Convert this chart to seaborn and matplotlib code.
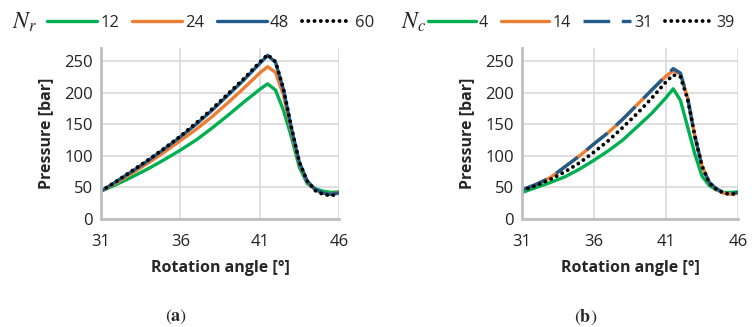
import matplotlib
matplotlib.use("Agg")
import matplotlib.pyplot as plt
import seaborn as sns
import numpy as np

# ---- data ----
angles = [31, 32, 33, 34, 35, 36, 37, 38, 39, 40, 41, 41.5, 42, 42.5, 43, 43.5, 44, 44.5, 45, 45.5, 46]

# panel (a): N_r
nr_labels = ["12", "24", "48", "60"]
nr_12 = [44, 55, 67, 80, 94, 109, 125, 144, 164, 185, 205, 214, 204, 172, 130, 82, 56, 48, 44, 42, 43]
nr_24 = [44, 58, 73, 89, 106, 124, 142, 162, 184, 207, 231, 241, 232, 196, 140, 88, 59, 46, 41, 39, 42]
nr_48 = [44, 60, 76, 93, 111, 130, 150, 172, 196, 220, 246, 259, 248, 205, 144, 90, 60, 47, 41, 39, 41]
nr_60 = [44, 60, 77, 94, 112, 131, 152, 174, 198, 222, 248, 260, 249, 206, 145, 90, 60, 45, 39, 37, 40]

# panel (b): N_c
nc_labels = ["4", "14", "31", "39"]
nc_4 = [42, 50, 58, 67, 79, 93, 108, 125, 146, 167, 192, 206, 188, 146, 103, 68, 53, 46, 42, 42, 43]
nc_14 = [46, 55, 66, 83, 100, 119, 137, 158, 181, 204, 226, 235, 229, 192, 132, 84, 58, 47, 41, 39, 41]
nc_31 = [46, 55, 66, 83, 100, 119, 137, 158, 181, 204, 227, 238, 231, 192, 131, 84, 58, 48, 42, 40, 42]
nc_39 = [45, 53, 63, 75, 89, 106, 124, 145, 167, 191, 217, 228, 225, 190, 132, 84, 57, 47, 41, 39, 41]

x_ticks = [31, 36, 41, 46]
y_ticks = [0, 50, 100, 150, 200, 250]

# ---- style ----
sns.set_theme(style="white")
plt.rcParams["font.family"] = ["Open Sans", "DejaVu Sans"]
plt.rcParams["mathtext.fontset"] = "stix"

GREEN = "#00b050"
ORANGE = "#ed7d31"
BLUE = "#1f5c8c"
BLACK = "#000000"
GRID = "#d9d9d9"
SPINE = "#bfbfbf"

fig = plt.figure(figsize=(7.52, 3.27), dpi=100)
axA = fig.add_axes([101/752, 1-219/327, (339-101)/752, (219-48.4)/327])
axB = fig.add_axes([522/752, 1-219/327, (738-522)/752, (219-48.4)/327])

LW = 2.4
dot_style = (0, (0.01, 1.6))
dash_style = (0, (8, 3.5))

def draw(ax, series, labels, styles, colors):
    for vals, lab, ls, col in zip(series, labels, styles, colors):
        kw = dict(x=angles, y=vals, ax=ax, color=col, lw=LW if ls != "dot" else 2.8,
                  label=lab, sort=False)
        if ls == "dot":
            kw["linestyle"] = dot_style
            kw["dash_capstyle"] = "round"
        elif ls == "dash":
            kw["linestyle"] = dash_style
            kw["dash_capstyle"] = "butt"
        else:
            kw["linestyle"] = "-"
        sns.lineplot(**kw)
    ax.set_xlim(31, 46)
    ax.set_ylim(0, 270)
    ax.set_xticks(x_ticks)
    ax.set_yticks(y_ticks)
    ax.grid(True, color=GRID, lw=1.2)
    ax.set_axisbelow(True)
    for s in ["top", "right"]:
        ax.spines[s].set_visible(False)
    for s in ["left", "bottom"]:
        ax.spines[s].set_color(SPINE)
        ax.spines[s].set_linewidth(2)
    ax.tick_params(axis="both", length=0, labelsize=12, colors="#222222")
    ax.tick_params(axis="x", pad=11)
    ax.tick_params(axis="y", pad=6)
    ax.set_xlabel("Rotation angle [°]", fontsize=11.5, fontweight="bold", labelpad=7)
    ax.set_ylabel("Pressure [bar]", fontsize=11.5, fontweight="bold", labelpad=7)
    leg = ax.get_legend()
    if leg is not None:
        leg.remove()

draw(axA, [nr_12, nr_24, nr_48, nr_60], nr_labels, ["-", "-", "-", "dot"], [GREEN, ORANGE, BLUE, BLACK])
draw(axB, [nc_4, nc_14, nc_31, nc_39], nc_labels, ["-", "-", "dash", "dot"], [GREEN, ORANGE, BLUE, BLACK])

# legends
hA, lA = axA.get_legend_handles_labels()
hB, lB = axB.get_legend_handles_labels()
fig.legend(hA, lA, ncol=4, frameon=False, loc="center left", bbox_to_anchor=(47/752, 1-23/327),
           fontsize=12, handlelength=3.0, handletextpad=0.2, columnspacing=0.75, borderpad=0,
           borderaxespad=0)
fig.legend(hB, lB, ncol=4, frameon=False, loc="center left", bbox_to_anchor=(428/752, 1-23/327),
           fontsize=11.5, handlelength=3.0, handletextpad=0.2, columnspacing=0.8, borderpad=0,
           borderaxespad=0)
fig.text(12/752, 1-23/327, r"$N_r$", fontsize=17, va="center", ha="left")
fig.text(401/752, 1-23/327, r"$N_c$", fontsize=17, va="center", ha="left")

# panel labels
fig.text(176/752, 1-317/327, r"$(\mathbf{a})$", fontsize=13, ha="center", va="center")
fig.text(586/752, 1-317/327, r"$(\mathbf{b})$", fontsize=13, ha="center", va="center")

fig.savefig("out.png", dpi=100)
